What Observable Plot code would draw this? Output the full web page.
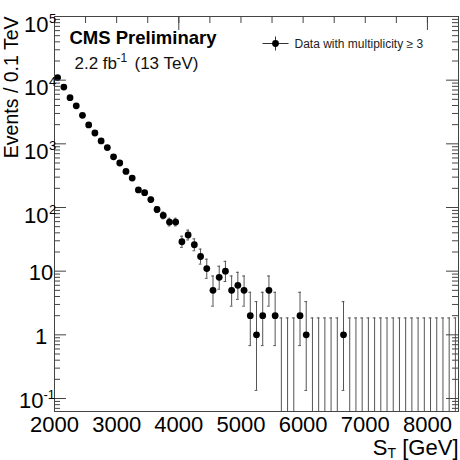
<!DOCTYPE html>
<html><head><meta charset="utf-8">
<script src="https://cdn.jsdelivr.net/npm/d3@7"></script>
<script src="https://cdn.jsdelivr.net/npm/@observablehq/plot@0.6"></script>
<style>html,body{margin:0;padding:0;background:#fff;} #chart{width:460px;height:460px;overflow:hidden;}</style>
</head><body><div id="chart"></div>
<script>
// S_T bin centres (GeV), 0.1 TeV wide bins
const stBins = [2050,2150,2250,2350,2450,2550,2650,2750,2850,2950,
  3050,3150,3250,3350,3450,3550,3650,3750,3850,3950,
  4050,4150,4250,4350,4450,4550,4650,4750,4850,4950,
  5050,5150,5250,5350,5450,5550,5650,5750,5850,5950,
  6050,6150,6250,6350,6450,6550,6650,6750,6850,6950,
  7050,7150,7250,7350,7450,7550,7650,7750,7850,7950,
  8050,8150,8250,8350,8450];
// Events per bin
const counts = [11000,7800,5300,3950,2800,1980,1480,1110,875,626,
  500,369,290,189,171,133,93,75,59,59,
  29,37,26,17,11,5,8,10,5,6,
  5,2,1,2,5,2,0,0,0,2,
  1,0,0,0,0,0,1,0,0,0,
  0,0,0,0,0,0,0,0,0,0,
  0,0,0,0,0];

const yTickValues = [0.1,1,10,100,1000,10000,100000];
const yTickBase = ["10","1","10","10","10","10","10"];
const yTickExp = ["-1","","","2","3","4","5"];
const xTickValues = [2000,3000,4000,5000,6000,7000,8000];
const xTickLabels = ["2000","3000","4000","5000","6000","7000","8000"];
const xTopTicks = [2500,3000,3500,4000,4500,5000,5500,6000,6500,7000,7500,8000];
const xTopLong = [4000,8000];
const legendLabel = "Data with multiplicity \u2265 3";
const titleText = "CMS Preliminary";
const yTitle = "Events / 0.1 TeV";

const xDomain = [2000, 8500];
const yDomain = [0.0625, 1e5];
const mL = 54, mR = 2, mT = 16, mB = 49, W = 460, H = 460;
const FW = W - mL - mR, FH = H - mT - mB;
const FONT = "'Liberation Sans', Arial, Helvetica, sans-serif";

// Poisson (Gehrels approx. of Garwood) intervals
const bins = stBins.map((x, i) => {
  const n = counts[i];
  const lo = n === 0 ? yDomain[0] : Math.max(n - Math.sqrt(n - 0.25), yDomain[0]);
  const hi = n === 0 ? 1.841 : n + Math.sqrt(n + 0.75) + 1;
  return {x, n, lo, hi};
});
const pts = bins.filter(d => d.n > 0);

const minorY = [];
for (let k = -2; k <= 4; k++) for (let m = 2; m <= 9; m++) {
  const v = m * Math.pow(10, k);
  if (v > yDomain[0] && v < yDomain[1]) minorY.push(v);
}
const yLabels = yTickValues.map((v, i) => ({v, base: yTickBase[i], exp: yTickExp[i]}));
const capHalf = 22;
const errCross = {draw(ctx) { ctx.moveTo(-13, 0); ctx.lineTo(13, 0); ctx.moveTo(0, -7); ctx.lineTo(0, 7); }};
const axisCol = "#444", errCol = "#555";

const chart = Plot.plot({
  width: W, height: H,
  marginLeft: mL, marginRight: mR, marginTop: mT, marginBottom: mB,
  style: {fontFamily: FONT, background: "white", overflow: "visible"},
  x: {domain: xDomain, axis: null},
  y: {type: "log", domain: yDomain, axis: null},
  marks: [
    Plot.ruleX(bins, {x: "x", y1: "lo", y2: "hi", stroke: errCol, strokeWidth: 1, clip: true}),
    Plot.ruleY(bins, {y: "hi", x1: d => d.x - capHalf, x2: d => d.x + capHalf, stroke: errCol, strokeWidth: 1}),
    Plot.ruleY(pts, {y: "lo", x1: d => d.x - capHalf, x2: d => d.x + capHalf, stroke: errCol, strokeWidth: 1}),
    Plot.dot(pts, {x: "x", y: "n", r: 3.4, fill: "black", stroke: "none"}),
    Plot.frame({stroke: axisCol, strokeWidth: 1}),
    Plot.tickY(yTickValues, {y: d => d, insetRight: FW - 12, stroke: axisCol}),
    Plot.tickY(minorY, {y: d => d, insetRight: FW - 6, stroke: axisCol}),
    Plot.tickY(yTickValues, {y: d => d, insetLeft: FW - 12, stroke: axisCol}),
    Plot.tickY(minorY, {y: d => d, insetLeft: FW - 6, stroke: axisCol}),
    Plot.tickX(xTopTicks, {x: d => d, insetBottom: FH - 7, stroke: axisCol}),
    Plot.tickX(xTopLong, {x: d => d, insetBottom: FH - 14, stroke: axisCol}),
    Plot.text(yLabels.filter(d => d.exp === ""), {y: "v", frameAnchor: "left", text: "base", dx: -13.5, dy: 9, textAnchor: "middle", lineAnchor: "bottom", fontSize: 22, fill: "black"}),
    Plot.text(yLabels.filter(d => d.exp !== "" && !d.exp.startsWith("-")), {y: "v", frameAnchor: "left", text: "base", dx: -6, dy: 15, textAnchor: "end", lineAnchor: "bottom", fontSize: 22, fill: "black"}),
    Plot.text(yLabels.filter(d => d.exp !== "" && !d.exp.startsWith("-")), {y: "v", frameAnchor: "left", text: "exp", dx: -5.5, dy: 6, textAnchor: "start", lineAnchor: "bottom", fontSize: 13, fill: "black"}),
    Plot.text(yLabels.filter(d => d.exp.startsWith("-")), {y: "v", frameAnchor: "left", text: "base", dx: -11, dy: 9, textAnchor: "end", lineAnchor: "bottom", fontSize: 22, fill: "black"}),
    Plot.text(yLabels.filter(d => d.exp.startsWith("-")), {y: "v", frameAnchor: "left", text: "exp", dx: -11, dy: 0, textAnchor: "start", lineAnchor: "bottom", fontSize: 13, fill: "black"}),
    Plot.text(xTickValues.map((v, i) => ({v, t: xTickLabels[i]})), {x: "v", frameAnchor: "bottom", text: "t", dy: 20, textAnchor: "middle", lineAnchor: "bottom", fontSize: 22, fill: "black"}),
    Plot.text(["[GeV]"], {frameAnchor: "bottom-right", text: d => d, dx: 0, dy: 43, textAnchor: "end", lineAnchor: "bottom", fontSize: 22, fill: "black"}),
    Plot.text(["T"], {frameAnchor: "bottom-right", text: d => d, dx: -62.4, dy: 46, textAnchor: "end", lineAnchor: "bottom", fontSize: 14, fill: "black"}),
    Plot.text(["S"], {frameAnchor: "bottom-right", text: d => d, dx: -71, dy: 43, textAnchor: "end", lineAnchor: "bottom", fontSize: 22, fill: "black"}),
    Plot.text([yTitle], {frameAnchor: "top-left", text: d => d, dx: -37, dy: 0, rotate: -90, textAnchor: "end", lineAnchor: "bottom", fontSize: 19.5, fill: "black"}),
    Plot.text([titleText], {frameAnchor: "top-left", text: d => d, dx: 15, dy: 27, textAnchor: "start", lineAnchor: "bottom", fontSize: 18.5, fontWeight: "bold", fill: "black"}),
    Plot.text(["2.2 fb"], {frameAnchor: "top-left", text: d => d, dx: 20, dy: 52, textAnchor: "start", lineAnchor: "bottom", fontSize: 17, fill: "#111"}),
    Plot.text(["-1"], {frameAnchor: "top-left", text: d => d, dx: 62, dy: 45, textAnchor: "start", lineAnchor: "bottom", fontSize: 12, fill: "#111"}),
    Plot.text(["(13 TeV)"], {frameAnchor: "top-left", text: d => d, dx: 80, dy: 52, textAnchor: "start", lineAnchor: "bottom", fontSize: 17, fill: "#111"}),
    Plot.dot([0], {frameAnchor: "top-left", dx: 221, dy: 27, symbol: errCross, r: 5, stroke: "#333", fill: "none", strokeWidth: 1}),
    Plot.dot([0], {frameAnchor: "top-left", dx: 221, dy: 27, r: 3.4, fill: "black", stroke: "none"}),
    Plot.text([legendLabel], {frameAnchor: "top-left", text: d => d, dx: 240, dy: 31, textAnchor: "start", lineAnchor: "bottom", fontSize: 12, fill: "#222"})
  ]
});
document.getElementById("chart").appendChild(chart);
</script>
</body></html>
